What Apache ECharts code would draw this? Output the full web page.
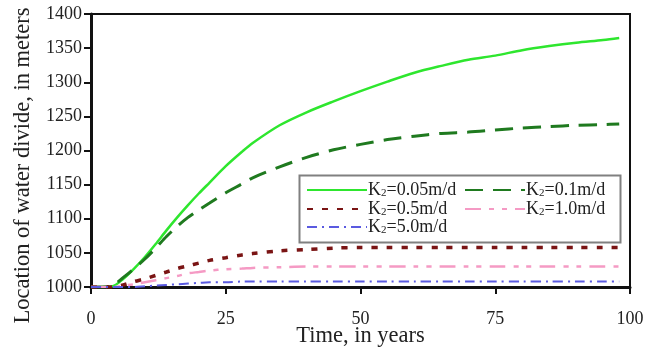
<!DOCTYPE html>
<html><head><meta charset="utf-8">
<script src="https://cdn.jsdelivr.net/npm/echarts@6/dist/echarts.min.js"></script>
<style>html,body{margin:0;padding:0;background:#fff}#c{width:661px;height:352px}</style>
</head><body><div id="c"></div>
<script>
const times = [0,2,4,6,8,10,12,14,16,18,20,22,25,28,30,35,40,45,50,55,60,65,70,75,80,85,90,95,98];
const k005 = [1000,1000,1001,1012,1027,1044,1063,1083,1102,1120,1137,1153,1177,1198,1211,1237,1256,1272,1287,1301,1314,1324,1333,1339,1347,1353,1358,1362,1365];
const k01  = [1000,1000,1002,1014,1027,1041,1057,1074,1089,1102,1113,1123,1138,1151,1160,1176,1190,1201,1209,1216,1221,1225,1227,1230,1233,1235,1237,1238,1239];
const k05  = [1000,1000,1000,1003,1008,1012,1017,1022,1027,1031,1035,1039,1043,1047,1049,1053,1055,1057,1058,1058,1058,1058,1058,1058,1058,1058,1058,1058,1058];
const k10  = [1000,1000,1000,1002,1004,1007,1010,1013,1016,1020,1022,1024,1026,1027,1028,1029,1030,1030,1030,1030,1030,1030,1030,1030,1030,1030,1030,1030,1030];
const k50  = [1000,1000,1000,1000,1000,1001,1002,1003,1004,1005,1006,1007,1007,1008,1008,1008,1008,1008,1008,1008,1008,1008,1008,1008,1008,1008,1008,1008,1008];
const seriesNames = ['K2=0.05m/d','K2=0.1m/d','K2=0.5m/d','K2=1.0m/d','K2=5.0m/d'];
const xTicks = [0,25,50,75,100];
const yTicks = [1000,1050,1100,1150,1200,1250,1300,1350,1400];

const FONT = "'Liberation Serif','Times New Roman',serif";
const pairs = arr => times.map((t,i)=>[t,arr[i]]);
const styles = [
  {color:'#2ee62e', width:2.5, type:'solid'},
  {color:'#1f7a1f', width:3, type:[18,10]},
  {color:'#7a1414', width:3.5, type:[6,9]},
  {color:'#f59ac4', width:2.5, type:[16,8,5,8,5,8]},
  {color:'#5a5ae0', width:2, type:[10,5,2,5]}
];
const values = [k005,k01,k05,k10,k50];
const series = values.map((v,i)=>({
  name: seriesNames[i], type:'line', data: pairs(v), symbol:'none', smooth:0.3,
  lineStyle: {color:styles[i].color, width:styles[i].width, type:styles[i].type},
  itemStyle: {color:styles[i].color}
}));
const legendPos = [[306,181],[464,181],[306,200],[464,200],[306,218]];
const legends = seriesNames.map((n,i)=>({
  data:[n], left:legendPos[i][0], top:legendPos[i][1], padding:0,
  itemWidth:60, itemHeight:14, itemGap:0,
  itemStyle:{opacity:0},
  formatter: s => s.replace('K2','K{sub|2}'),
  textStyle:{fontFamily:FONT, fontSize:18, color:'#222', padding:[0,0,0,-4],
    rich:{sub:{fontFamily:FONT, fontSize:11, color:'#222', padding:[7,0,0,0]}}}
}));
const chart = echarts.init(document.getElementById('c'));
chart.setOption({
  animation:false,
  backgroundColor:'#fff',
  grid:{left:91, right:31, top:14, bottom:65, show:true, borderColor:'#111', borderWidth:2, containLabel:false, outerBoundsMode:'none'},
  legend: legends,
  graphic:[{type:'rect', left:297, top:173, shape:{width:321, height:67}, style:{fill:'none', stroke:'#808080', lineWidth:2}, z:10}],
  xAxis:{type:'value', min:0, max:100, interval:25,
    name:'Time, in years', nameLocation:'middle', nameGap:38, nameMoveOverlap:false,
    nameTextStyle:{fontFamily:FONT, fontSize:22.5, color:'#222'},
    axisLine:{lineStyle:{color:'#111', width:3}},
    axisTick:{inside:false, length:7, lineStyle:{color:'#111', width:2}},
    axisLabel:{fontFamily:FONT, fontSize:18, color:'#222', margin:23, formatter:v=>xTicks.includes(v)?String(v):''},
    splitLine:{show:false}},
  yAxis:{type:'value', min:1000, max:1400, interval:50,
    name:'Location of water divide, in meters', nameLocation:'middle', nameGap:56, nameMoveOverlap:false,
    nameTextStyle:{fontFamily:FONT, fontSize:22.5, color:'#222', padding:[0,30,0,0]},
    axisLine:{show:true, lineStyle:{color:'#111', width:3}},
    axisTick:{show:true, inside:false, length:7, lineStyle:{color:'#111', width:2}},
    axisLabel:{fontFamily:FONT, fontSize:18, color:'#222', margin:9, formatter:v=>yTicks.includes(v)?String(v):''},
    splitLine:{show:false}},
  series: series
});
</script></body></html>
